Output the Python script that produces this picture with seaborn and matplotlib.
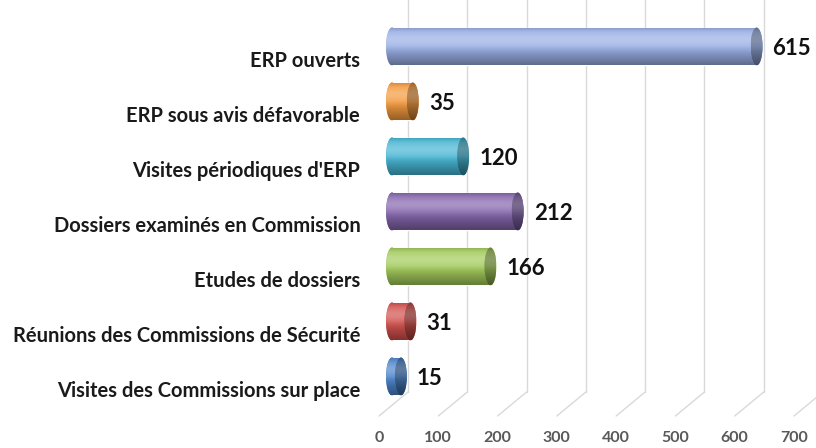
import numpy as np
import pandas as pd
import seaborn as sns
import matplotlib.pyplot as plt
import matplotlib.colors as mcolors
from matplotlib.patches import Ellipse
from matplotlib.transforms import ScaledTranslation

# data
categories = ["ERP ouverts", "ERP sous avis défavorable", "Visites périodiques d'ERP",
              "Dossiers examinés en Commission", "Etudes de dossiers",
              "Réunions des Commissions de Sécurité", "Visites des Commissions sur place"]
values = [615, 35, 120, 212, 166, 31, 15]
colors = ["#98AEE4", "#F39A3E", "#45B5D3", "#8465AC", "#A2CA5A", "#D2504C", "#4C84CC"]
x_ticks = [0, 100, 200, 300, 400, 500, 600, 700]

sns.set_theme(style="white")
plt.rcParams['font.family'] = ['Lato', 'DejaVu Sans']


def shade(c, n=64):
    # fake cylinder lighting, top to bottom
    base = np.array(mcolors.to_rgb(c))
    t = np.linspace(0, 1, n)
    light = 0.3 * np.exp(-((t - 0.32) / 0.22) ** 2)
    dark = 0.38 * np.clip(t - 0.5, 0, None) / 0.5 + 0.15 * np.clip(0.12 - t, 0, None) / 0.12
    rgb = base * (1 - dark)[:, None]
    rgb = rgb + (1 - rgb) * light[:, None]
    return rgb[:, None, :]


fig = plt.figure(figsize=(8.16, 4.48), dpi=100)
ax = fig.add_axes([379 / 816, 32 / 448, 415 / 816, 416 / 448])
ax.patch.set_visible(False)

df = pd.DataFrame({"cat": categories, "val": values})
sns.barplot(data=df, x="val", y="cat", hue="cat", palette=colors, legend=False,
            width=0.69, saturation=1, ax=ax, zorder=2)

ymin, ymax = 6.5, -1.064
px_x = 415 / 700
px_y = 416 / (ymin - ymax)

# back wall gridlines and floor diagonals
dxu, dyu = 29 / px_x, 24 / px_y
for t in x_ticks:
    ax.plot([t + dxu, t + dxu], [ymin - dyu, ymax], color="#d9d9d9", lw=1, clip_on=False, zorder=0)
    ax.plot([t, t + dxu], [ymin, ymin - dyu], color="#d9d9d9", lw=1, clip_on=False, zorder=0)

mid = ax.transData + ScaledTranslation(13 / 100, 12 / 100, fig.dpi_scale_trans)
ew = 12 / px_x

for p, v, c in zip(ax.patches, values, colors):
    p.set_transform(mid)
    yc = p.get_y() + p.get_height() / 2
    h = p.get_height()
    img = shade(c)
    im = ax.imshow(img, extent=(p.get_x(), p.get_x() + p.get_width(), yc + h / 2, yc - h / 2),
                   aspect='auto', transform=mid, zorder=3, interpolation='bilinear')
    im.set_clip_path(p)
    left = Ellipse((0, yc), ew, h, transform=mid, facecolor=c, edgecolor='none', zorder=2)
    ax.add_patch(left)
    im2 = ax.imshow(img, extent=(-ew / 2, ew / 2, yc + h / 2, yc - h / 2),
                    aspect='auto', transform=mid, zorder=3, interpolation='bilinear')
    im2.set_clip_path(left)
    cap = Ellipse((v, yc), ew, h, transform=mid, facecolor=c, edgecolor='none', zorder=4)
    ax.add_patch(cap)
    im3 = ax.imshow(shade(c) * 0.72, extent=(v - ew / 2, v + ew / 2, yc + h / 2, yc - h / 2),
                    aspect='auto', transform=mid, zorder=5, interpolation='bilinear')
    im3.set_clip_path(cap)
    ax.annotate(str(v), (v, yc), xytext=(29 * 0.72, 10 * 0.72), textcoords='offset points',
                ha='left', va='center', fontsize=16, fontweight='bold', color='#111111')

ax.set_xlim(0, 700)
ax.set_ylim(ymin, ymax)
ax.set_xticks(x_ticks)
ax.set_xticklabels([str(t) for t in x_ticks])
ax.set_yticks(range(len(categories)))
ax.set_yticklabels(categories)
ax.tick_params(axis='y', length=0, pad=13.5, labelsize=14.5, labelcolor='#1a1a1a')
ax.tick_params(axis='x', length=0, pad=11, labelsize=11.5, labelcolor='#595959')
for lab in ax.get_xticklabels() + ax.get_yticklabels():
    lab.set_fontweight('bold')
ax.set_xlabel('')
ax.set_ylabel('')
ax.grid(False)
for s in ax.spines.values():
    s.set_visible(False)

fig.savefig("out.png", dpi=100)
